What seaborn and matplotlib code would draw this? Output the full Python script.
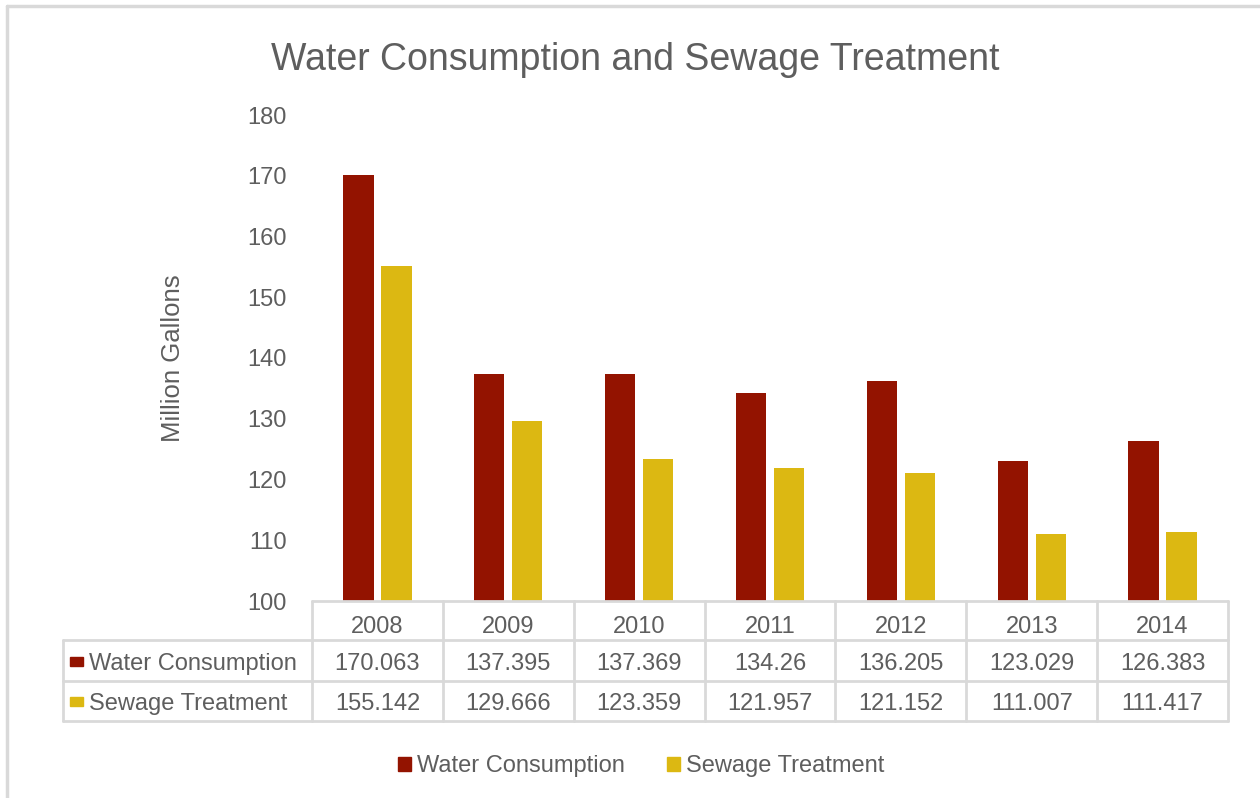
import pandas as pd
import matplotlib.pyplot as plt
import seaborn as sns
from matplotlib.lines import Line2D
from matplotlib.patches import Patch, Rectangle

years = ["2008", "2009", "2010", "2011", "2012", "2013", "2014"]
water = [170.063, 137.395, 137.369, 134.26, 136.205, 123.029, 126.383]
sewage = [155.142, 129.666, 123.359, 121.957, 121.152, 111.007, 111.417]
series = ["Water Consumption", "Sewage Treatment"]
colors = ["#931300", "#dcb812"]
text_col = "#5e5e5e"
grid_col = "#d9d9d9"

df = pd.DataFrame({
    "year": years * 2,
    "value": water + sewage,
    "series": [series[0]] * len(years) + [series[1]] * len(years),
})

sns.set_theme(style="white")
plt.rcParams["font.family"] = ["Liberation Sans", "DejaVu Sans"]

fig = plt.figure(figsize=(12.6, 7.98), dpi=100)
ax = fig.add_axes([312 / 1260, 197 / 798, 916 / 1260, 486 / 798])

sns.barplot(data=df, x="year", y="value", hue="series", palette=colors,
            saturation=1, width=0.58, gap=0.2, linewidth=0, legend=False, ax=ax)

ax.set_ylim(100, 180)
ax.set_yticks(range(100, 181, 10))
ax.set_xlim(-0.5, len(years) - 0.5)
ax.tick_params(axis="y", length=0, pad=18, labelsize=17, labelcolor=text_col)
ax.tick_params(axis="x", length=0, labelbottom=False)
ax.set_xlabel("")
ax.set_ylabel("")
for s in ax.spines.values():
    s.set_visible(False)

# data table under the axes (x in data units, y in axes units)
tr = ax.get_xaxis_transform()
x_left = -2.403
x_right = len(years) - 0.5
y_hdr, y_r1, y_r2 = -0.0802, -0.1646, -0.2469
line_kw = dict(color=grid_col, lw=2, transform=tr, clip_on=False)
ax.plot([-0.5, x_right], [0, 0], **line_kw)
for y in [y_hdr, y_r1, y_r2]:
    ax.plot([x_left, x_right], [y, y], **line_kw)
for i in range(len(years) + 1):
    ax.plot([i - 0.5, i - 0.5], [0, y_r2], **line_kw)
ax.plot([x_left, x_left], [y_hdr, y_r2], **line_kw)

txt_kw = dict(transform=tr, fontsize=17, color=text_col, ha="center", va="center")
for i, yr in enumerate(years):
    ax.text(i, -0.053, yr, **txt_kw)
    ax.text(i, -0.1297, f"{water[i]:g}", **txt_kw)
    ax.text(i, -0.212, f"{sewage[i]:g}", **txt_kw)

for name, col, yc in zip(series, colors, [-0.1297, -0.212]):
    ax.add_patch(Rectangle((-2.349, yc + 0.006 - 0.0093), 0.099, 0.0185,
                           color=col, transform=tr, clip_on=False))
    ax.text(-2.204, yc, name, transform=tr, fontsize=17, color=text_col,
            ha="left", va="center")

fig.text(0.504, 0.925, "Water Consumption and Sewage Treatment",
         fontsize=27, color=text_col, ha="center", va="center")
fig.text(0.137, 0.551, "Million Gallons", fontsize=18.5, color=text_col,
         rotation=90, ha="center", va="center")

handles = [Patch(color=c, label=n) for n, c in zip(series, colors)]
fig.legend(handles=handles, loc="center", bbox_to_anchor=(0.509, 0.040), ncol=2,
           frameon=False, fontsize=17, labelcolor=text_col, handlelength=0.55,
           handleheight=0.55, handletextpad=0.25, columnspacing=1.8)

# outer border (top and left only visible)
fig.add_artist(Line2D([7 / 1260, 1], [1 - 6 / 798, 1 - 6 / 798], color=grid_col, lw=2.5))
fig.add_artist(Line2D([7 / 1260, 7 / 1260], [0, 1 - 6 / 798], color=grid_col, lw=2.5))

fig.savefig("out.png", dpi=100, facecolor="white")
